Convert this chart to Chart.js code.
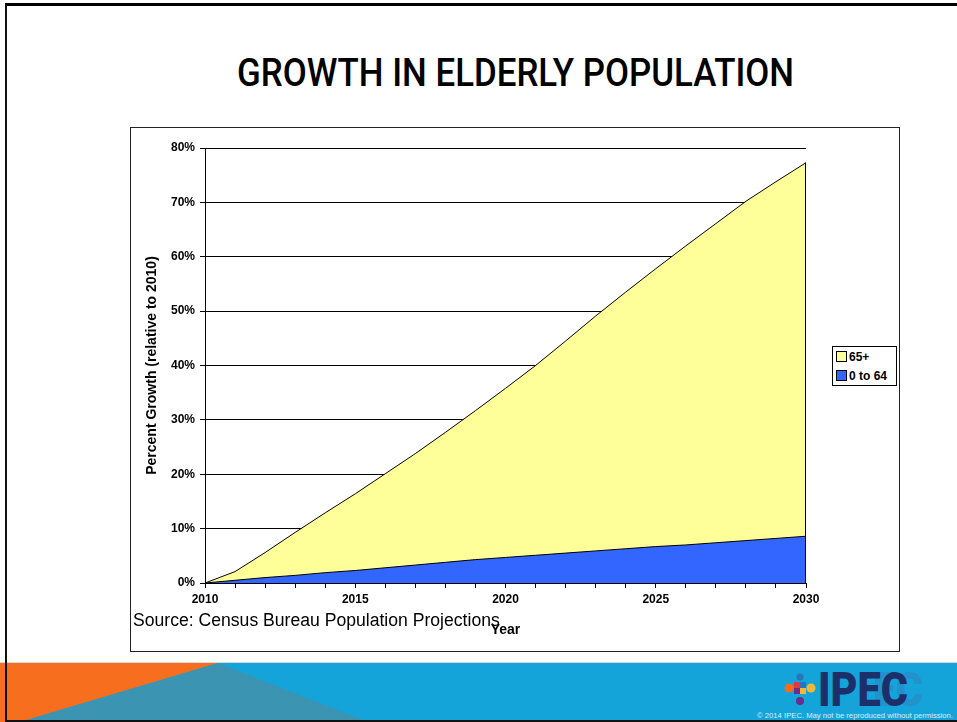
<!DOCTYPE html>
<html><head><meta charset="utf-8">
<script src="https://cdn.jsdelivr.net/npm/chart.js@4"></script>
<style>
html,body{margin:0;padding:0;}
body{width:957px;height:722px;position:relative;background:#fff;overflow:hidden;font-family:"Liberation Sans",Arial,sans-serif;}
#banner{position:absolute;left:0;top:0;}
#border{position:absolute;left:5px;top:3px;width:960px;height:719px;border-top:3px solid #000;border-left:2px solid #111;border-bottom:2px solid #111;box-sizing:border-box;pointer-events:none;}
#title{position:absolute;top:54px;left:0;white-space:nowrap;font-family:Roboto,"Liberation Sans",sans-serif;font-weight:500;font-size:39px;color:#000;transform-origin:0 0;line-height:1;}
#frame{position:absolute;left:130px;top:127px;width:770px;height:525px;border:1px solid #222;box-sizing:border-box;background:#fff;}
#chartWrap{position:absolute;left:130px;top:127px;width:770px;height:525px;}
#source{position:absolute;left:133px;top:612px;white-space:nowrap;font-size:17px;color:#000;line-height:1;}
#legend{position:absolute;left:832px;top:346px;width:65px;height:40px;border:1px solid #000;box-sizing:border-box;background:#fff;font-weight:bold;font-size:12px;}
.li{position:absolute;left:3px;height:14px;line-height:14px;white-space:nowrap;}
.sw{display:inline-block;width:9px;height:9px;border:1px solid #000;vertical-align:middle;margin-right:2px;position:relative;top:-1px;}
#logo{position:absolute;left:0;top:0;white-space:nowrap;font-family:Roboto,"Liberation Sans",sans-serif;font-weight:900;font-size:48px;color:#1c2f6a;line-height:1;transform-origin:0 0;}
#logo2{position:absolute;left:0;top:0;white-space:nowrap;font-family:Roboto,"Liberation Sans",sans-serif;font-weight:900;font-size:48px;color:#2f82c0;line-height:1;transform-origin:0 0;opacity:0.55;}
#copy{position:absolute;left:0;top:0;white-space:nowrap;font-family:"Liberation Sans Narrow","Liberation Sans",sans-serif;font-size:8px;color:#d8eef8;line-height:1;transform-origin:0 0;}
</style>
</head><body>
<svg id="banner" width="957" height="722">
  <rect x="0" y="663" width="957" height="59" fill="#15a4da"/>
  <line x1="0" y1="662.5" x2="957" y2="662.5" stroke="#d7d7d7" stroke-width="1"/>
  <polygon points="0,663 218,663 20,722 0,722" fill="#f76e1e"/>
  <polygon points="218,663 20,722 368,722" fill="#3b95b2"/>
  <!-- logo icon -->
  <circle cx="800" cy="677" r="3.5" fill="#2b74b8"/>
  <circle cx="789" cy="688" r="4.5" fill="#f26b21"/>
  <circle cx="811" cy="688" r="4.5" fill="#f7b733"/>
  <circle cx="800" cy="701" r="4" fill="#6b2c8e"/>
  <rect x="794" y="682" width="6" height="6" fill="#e03a3e"/>
  <rect x="800" y="682" width="6" height="6" fill="#2b74b8"/>
  <rect x="794" y="688" width="6" height="6" fill="#6b2c8e"/>
  <rect x="800" y="688" width="6" height="6" fill="#f7b733"/>
</svg>
<div id="logo2">EC</div>
<div id="logo">IPEC</div>
<div id="copy">© 2014 IPEC. May not be reproduced without permission.</div>
<div id="border"></div>
<div id="title">GROWTH IN ELDERLY POPULATION</div>
<div id="frame"></div>
<div id="chartWrap"><canvas id="c" width="770" height="525"></canvas></div>
<div id="source">Source: Census Bureau Population Projections</div>
<div id="legend">
  <div class="li" style="top:3px"><span class="sw" style="background:#ffff99"></span>65+</div>
  <div class="li" style="top:22px"><span class="sw" style="background:#3366ff"></span>0 to 64</div>
</div>
<script>
// ---- data (percent growth relative to 2010) ----
const years = ['2010','2011','2012','2013','2014','2015','2016','2017','2018','2019','2020',
               '2021','2022','2023','2024','2025','2026','2027','2028','2029','2030'];
// 0 to 64 age group (bottom layer)
const under65 = [0,0.5,1.0,1.4,1.9,2.3,2.8,3.3,3.8,4.3,4.7,5.1,5.5,5.9,6.3,6.7,7.0,7.4,7.8,8.2,8.6];
// 65+ age group (stacked layer on top)
const over65 = [0,1.6,4.6,7.9,11.0,14.1,17.3,20.5,23.9,27.4,31.1,34.9,39.0,43.2,47.2,51.1,55.0,58.7,62.4,65.6,68.7];
const yTicks = {min:0, max:80, step:10};
const seriesNames = ['0 to 64','65+'];

const title = document.getElementById('title');
const tw = title.getBoundingClientRect().width;
const tTarget = 557;
title.style.left = (515 - tTarget/2) + 'px';
title.style.transform = 'scaleX(' + (tTarget/tw) + ')';

const src = document.getElementById('source');
const sw = src.getBoundingClientRect().width;
src.style.fontSize = (17*367/sw) + 'px';

const logo = document.getElementById('logo');
const lw = logo.getBoundingClientRect().width;
logo.style.left = '818px'; logo.style.top = '666px';
logo.style.transform = 'scaleX(' + (90/lw) + ')';
const logo2 = document.getElementById('logo2');
const l2w = logo2.getBoundingClientRect().width;
logo2.style.left = '873px'; logo2.style.top = '666px';
logo2.style.transform = 'scaleX(' + (50/l2w) + ')';

const copy = document.getElementById('copy');
const cw = copy.getBoundingClientRect().width;
copy.style.left = '757px'; copy.style.top = '712px';
copy.style.transform = 'scaleX(' + (196/cw) + ')';

const edgePlugin = {
  id:'edge',
  afterDatasetsDraw(chart){
    const ctx = chart.ctx;
    const y0 = chart.scales.y.getPixelForValue(0);
    const meta = chart.getDatasetMeta(1);
    const p = meta.data[meta.data.length-1];
    ctx.save();
    ctx.strokeStyle = '#000'; ctx.lineWidth = 1;
    ctx.beginPath(); ctx.moveTo(Math.round(p.x)-0.5, p.y); ctx.lineTo(Math.round(p.x)-0.5, y0); ctx.stroke();
    ctx.restore();
  }
};

const tickFont = {family:'"Liberation Sans", Arial, sans-serif', size:12, weight:'bold'};
const titleFont = {family:'"Liberation Sans", Arial, sans-serif', size:14, weight:'bold'};

new Chart(document.getElementById('c'), {
  type:'line',
  data:{
    labels: years,
    datasets:[
      {label:seriesNames[0], data:under65, backgroundColor:'#3366ff', borderColor:'#000', borderWidth:1, fill:'origin', pointRadius:0, tension:0},
      {label:seriesNames[1], data:over65, backgroundColor:'#ffff99', borderColor:'#000', borderWidth:1, fill:'-1', pointRadius:0, tension:0}
    ]
  },
  options:{
    responsive:false, animation:false, devicePixelRatio:1,
    layout:{padding:{left:0, top:21, right:94, bottom:0}},
    plugins:{legend:{display:false}, tooltip:{enabled:false}},
    scales:{
      x:{
        type:'category', offset:false,
        grid:{drawOnChartArea:false, drawTicks:true, tickLength:5, color:'#000'},
        border:{color:'#000', width:1},
        ticks:{autoSkip:false, maxRotation:0, padding:4, color:'#000', font:tickFont,
          callback:function(v,i){ return (i%5===0) ? years[i] : ''; }},
        title:{display:true, text:'Year', color:'#000', font:titleFont, padding:{top:0,bottom:13}},
        afterFit(s){ s.height = 69; }
      },
      y:{
        stacked:true, min:yTicks.min, max:yTicks.max,
        grid:{color:'#000', lineWidth:1, tickLength:5, drawTicks:true},
        border:{color:'#000', width:1},
        ticks:{stepSize:yTicks.step, padding:5, color:'#000', font:tickFont, callback:v=>v+'%'},
        title:{display:true, text:'Percent Growth (relative to 2010)', color:'#000', font:titleFont, padding:{top:14,bottom:0}},
        afterFit(s){ s.width = 75; }
      }
    }
  },
  plugins:[edgePlugin]
});
</script>
</body></html>
